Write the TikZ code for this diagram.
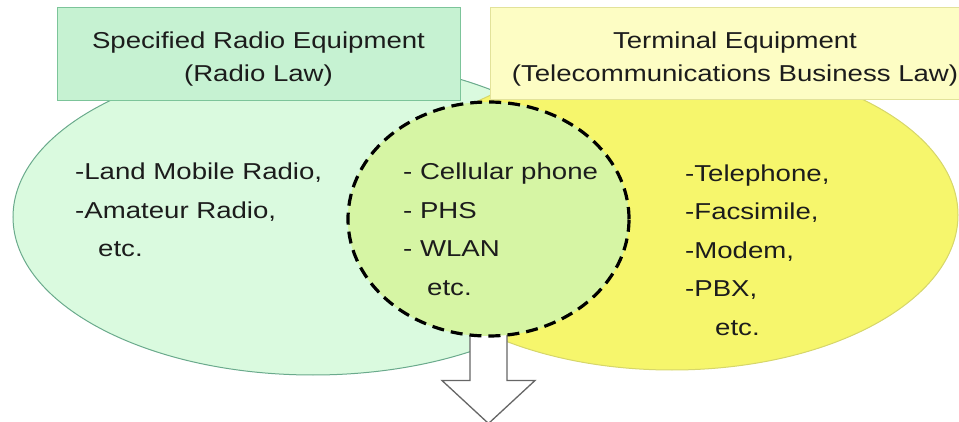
\documentclass[tikz,border=0pt]{standalone}
\usepackage{fontspec}
\setmainfont[FakeStretch=1.2]{Liberation Sans}
\usetikzlibrary{shapes.geometric}
\definecolor{radiofill}{HTML}{DAFADF}
\definecolor{radioline}{HTML}{6AAA8C}
\definecolor{termfill}{HTML}{F6F66C}
\definecolor{termline}{HTML}{D6D66A}
\definecolor{bothfill}{HTML}{D6F5A4}
\definecolor{radiobox}{HTML}{C6F2D2}
\definecolor{radioboxline}{HTML}{7CC49A}
\definecolor{termbox}{HTML}{FDFDC4}
\definecolor{termboxline}{HTML}{E2E29A}
\definecolor{inkdark}{HTML}{1C1C1C}
\tikzset{
  every area/.style={
    ellipse,
    line width=1pt,
    inner sep=0pt
  },
}
\tikzstyle{titlebox} = [rectangle, line width=1pt, align=center, text height=55pt, text depth=0pt, text=inkdark, font=\fontsize{23}{33}\selectfont]
\tikzstyle{listtext} = [align=left, anchor=base west, inner sep=0pt, text=inkdark, font=\fontsize{23}{38.5}\selectfont]
\tikzstyle{hollow} = [draw=black!60, fill=white, line width=1.3pt, line join=miter]

\begin{document}
\begin{tikzpicture}[x=1pt, y=-1pt]
        \useasboundingbox (0,0) rectangle (959,422);
        % areas
        \node [every area, fill=radiofill, draw=radioline, minimum width=600pt, minimum height=316pt] (radio) at (313,217) {};
        \node [every area, fill=termfill, draw=termline, minimum width=572pt, minimum height=310pt] (term) at (672,215) {};
        \node [every area, fill=bothfill, draw=none, minimum width=281pt, minimum height=234pt] (both) at (488.5,219) {};

        % arrow
        \draw [hollow] (both.south) ++(-18.5,-3) -- ++(0,47) -- ++(-28,0) -- ++(46.5,43) -- ++(46.5,-43) -- ++(-28,0) -- ++(0,-47) -- cycle;
        \node [every area, fill=bothfill, draw=black, line width=3.2pt, dash pattern=on 12pt off 7pt, minimum width=281pt, minimum height=234pt] at (both) {};

        % blocks
        \node [titlebox, fill=radiobox, draw=radioboxline, minimum width=403pt, minimum height=93pt] (radiohead) at (258.5,54.5) {Specified Radio Equipment\\(Radio Law)};
        \node [titlebox, fill=termbox, draw=termboxline, minimum width=462pt, minimum height=92pt] (termhead) at (726,54) {\hspace*{18pt}Terminal Equipment\\\hspace*{18pt}(Telecommunications Business Law)};

        % lists
        \node [listtext] (radiolist) at (75,257) {-Land Mobile Radio,\\-Amateur Radio,\\\hspace*{23pt}etc.};
        \node [listtext] (bothlist) at (403,295) {- Cellular phone\\- PHS\\- WLAN\\\hspace*{24pt}etc.};
        \node [listtext] (termlist) at (685,335) {-Telephone,\\-Facsimile,\\-Modem,\\-PBX,\\\hspace*{30pt}etc.};
\end{tikzpicture}
\end{document}
